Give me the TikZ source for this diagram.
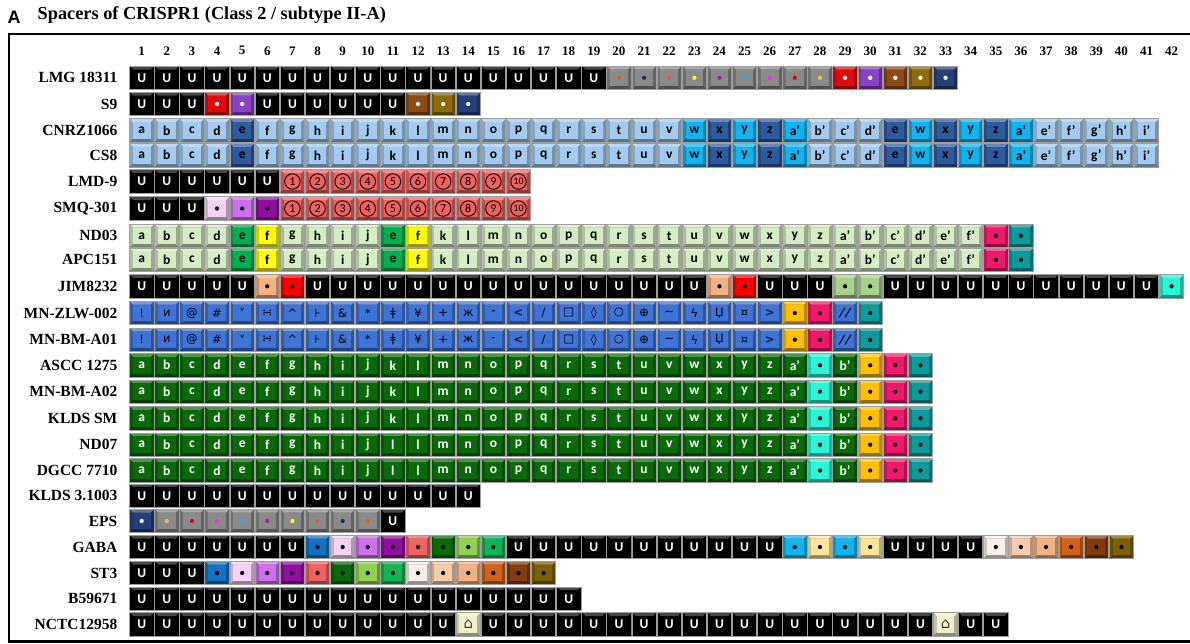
\documentclass[tikz,border=0pt]{standalone}
\usepackage{fontspec}
\setmainfont{Liberation Serif}
\newfontfamily\cellfont{Carlito}
\newfontfamily\symfont{DejaVu Sans}
\newfontfamily\afont{Liberation Sans}
\definecolor{lb}{HTML}{A4CBEF}
\definecolor{db}{HTML}{2E5AA0}
\definecolor{cy}{HTML}{10B4F0}
\definecolor{salmon}{HTML}{EF6262}
\definecolor{lg}{HTML}{D3EDC4}
\definecolor{gre}{HTML}{00B050}
\definecolor{yel}{HTML}{FFFF00}
\definecolor{pinkred}{HTML}{F2186C}
\definecolor{teal2}{HTML}{0B9B9C}
\definecolor{peach}{HTML}{F4B183}
\definecolor{rred}{HTML}{FF0000}
\definecolor{lmgred}{HTML}{E00A0A}
\definecolor{lgtwo}{HTML}{A9D18E}
\definecolor{aqua}{HTML}{2BF5D6}
\definecolor{mnblue}{HTML}{3F74D6}
\definecolor{gold}{HTML}{FFC000}
\definecolor{dgreen}{HTML}{0A6A0A}
\definecolor{gr}{HTML}{8A8A8A}
\definecolor{navy}{HTML}{243F78}
\definecolor{purp}{HTML}{8840C4}
\definecolor{brown}{HTML}{8E4A16}
\definecolor{olive}{HTML}{8C6C08}
\definecolor{lpink}{HTML}{F7D2F7}
\definecolor{orchid}{HTML}{CE70EC}
\definecolor{purptwo}{HTML}{900FA0}
\definecolor{bluetwo}{HTML}{1272C4}
\definecolor{lgthree}{HTML}{92D050}
\definecolor{gretwo}{HTML}{12B458}
\definecolor{cream}{HTML}{FFE699}
\definecolor{vlpeach}{HTML}{FCEFE6}
\definecolor{lpeach}{HTML}{F8CBAD}
\definecolor{orangetwo}{HTML}{D0621A}
\definecolor{browntwo}{HTML}{843C0C}
\definecolor{olivetwo}{HTML}{7F6000}
\definecolor{housecr}{HTML}{F0F0CC}
\definecolor{dorange}{HTML}{E06010}
\definecolor{dnavy}{HTML}{1A2A6C}
\definecolor{dsalmon}{HTML}{F05050}
\definecolor{dyellow}{HTML}{FFFF00}
\definecolor{dpurple}{HTML}{9A20A0}
\definecolor{dsky}{HTML}{20B0F0}
\definecolor{dmagenta}{HTML}{FF20FF}
\definecolor{dred}{HTML}{E00000}
\definecolor{dgold}{HTML}{F0C040}
\tikzset{
  cellout/.style={draw=none, minimum width=24.4pt, minimum height=23.4pt, inner sep=0pt, outer sep=0pt},
  cellin/.style={draw=none, minimum width=17.6pt, minimum height=16.6pt, inner sep=0pt},
  cellrim/.style={draw=black!38, line width=0.8pt},
  ctxt/.style={font=\cellfont\bfseries\fontsize{13.5}{14}\selectfont, inner sep=0pt},
  stxt/.style={font=\symfont\fontsize{11.5}{12}\selectfont, inner sep=0pt, text=black},
  circ/.style={circle, draw=black, line width=0.9pt, minimum size=15.5pt, inner sep=0pt, font=\cellfont\fontsize{12}{12}\selectfont},
  lab/.style={font=\bfseries\fontsize{15.5}{16}\selectfont, anchor=east, inner sep=0pt},
  hdr/.style={font=\bfseries\fontsize{13}{14}\selectfont, inner sep=0pt}
}
\newcommand\rn{}
\newcommand\ry{}
\newcommand\setrow[3]{\def\rn{#1}\def\ry{#3}\node[lab] (lab-#1) at (117.5,#3) {#2};}
\newcommand\bg[2]{%
  \node[cellout, fill=#2!72!black] (\rn-#1) at ({141.7+25.12*(#1-1)},\ry) {};
  \fill[#2!72!white] (\rn-#1.north west) -- (\rn-#1.north east) -- ([shift={(-3.4,3.4)}]\rn-#1.north east) -- ([shift={(3.4,3.4)}]\rn-#1.north west) -- cycle;
  \fill[#2!82!black] (\rn-#1.north west) -- ([shift={(3.4,3.4)}]\rn-#1.north west) -- ([shift={(3.4,-3.4)}]\rn-#1.south west) -- (\rn-#1.south west) -- cycle;
  \fill[#2!58!black] (\rn-#1.south west) -- (\rn-#1.south east) -- ([shift={(-3.4,-3.4)}]\rn-#1.south east) -- ([shift={(3.4,-3.4)}]\rn-#1.south west) -- cycle;
  \draw[cellrim] (\rn-#1.north west) rectangle (\rn-#1.south east);
  \node[cellin, fill=#2] (\rn-#1-f) at (\rn-#1) {};}
\newcommand\tk[3]{\bg{#1}{#2}\node[ctxt, text=black] (\rn-#1-t) at (\rn-#1) {#3};}
\newcommand\tw[3]{\bg{#1}{#2}\node[ctxt, text=white] (\rn-#1-t) at (\rn-#1) {#3};}
\newcommand\dt[3]{\bg{#1}{#2}\fill[#3] (\rn-#1) circle (2.1);}
\newcommand\Ucell[1]{\tw{#1}{black}{U}}
\newcommand\Us[2]{\foreach \k in {#1,...,#2}{\Ucell{\k}}}
\newcommand\sy[3]{\bg{#1}{#2}\node[stxt] (\rn-#1-t) at (\rn-#1) {#3};}
\newcommand\cn[2]{\bg{#1}{salmon}\node[circ] (\rn-#1-t) at (\rn-#1) {#2};}
\newcommand\hs[1]{\bg{#1}{housecr}\node[font=\symfont\fontsize{15}{16}\selectfont, text=black!75, inner sep=0pt] (\rn-#1-t) at (\rn-#1) {⌂};}
\newcommand\crisprrow{%
  \foreach \t [count=\j] in {a,b,c,d}{\tk{\j}{lb}{\t}}
  \tk{5}{db}{e}
  \foreach \t [count=\j from 6] in {f,g,h,i,j,k,l,m,n,o,p,q,r,s,t,u,v}{\tk{\j}{lb}{\t}}
  \tk{23}{cy}{w}\tk{24}{db}{x}\tk{25}{cy}{y}\tk{26}{db}{z}\tk{27}{cy}{a’}
  \tk{28}{lb}{b’}\tk{29}{lb}{c’}\tk{30}{lb}{d’}
  \tk{31}{db}{e}\tk{32}{cy}{w}\tk{33}{db}{x}\tk{34}{cy}{y}\tk{35}{db}{z}\tk{36}{cy}{a’}
  \foreach \t [count=\j from 37] in {e’,f’,g’,h’,i’}{\tk{\j}{lb}{\t}}}
\newcommand\ndrow{%
  \foreach \t [count=\j] in {a,b,c,d}{\tk{\j}{lg}{\t}}
  \tk{5}{gre}{e}\tk{6}{yel}{f}
  \foreach \t [count=\j from 7] in {g,h,i,j}{\tk{\j}{lg}{\t}}
  \tk{11}{gre}{e}\tk{12}{yel}{f}
  \foreach \t [count=\j from 13] in {k,l,m,n,o,p,q,r,s,t,u,v,w,x,y,z,a’,b’,c’,d’,e’,f’}{\tk{\j}{lg}{\t}}
  \dt{35}{pinkred}{black}\dt{36}{teal2}{black}}
\newcommand\mnrow{%
  \foreach \t [count=\j] in {!,и,@,\#,˅,∺,\textasciicircum,⊦,\&,*,ǂ,¥,+,ж,-,<,/,□,◊,○,⊕,\textasciitilde,ϟ,Џ,¤,>}{\sy{\j}{mnblue}{\t}}
  \dt{27}{gold}{black}\dt{28}{pinkred}{black}
  \tk{29}{mnblue}{\itshape //}\dt{30}{teal2}{black}}
\newcommand\greentail{%
  \tw{27}{dgreen}{a’}\dt{28}{aqua}{black}\tw{29}{dgreen}{b’}
  \dt{30}{gold}{black}\dt{31}{pinkred}{black}\dt{32}{teal2}{black}}
\newcommand\greenk{%
  \foreach \t [count=\j] in {a,b,c,d,e,f,g,h,i,j,k,l,m,n,o,p,q,r,s,t,u,v,w,x,y,z}{\tw{\j}{dgreen}{\t}}
  \greentail}
\newcommand\greenl{%
  \foreach \t [count=\j] in {a,b,c,d,e,f,g,h,i,j,l,l,m,n,o,p,q,r,s,t,u,v,w,x,y,z}{\tw{\j}{dgreen}{\t}}
  \greentail}
\begin{document}
\begin{tikzpicture}[x=1pt,y=-1pt]
\useasboundingbox (0,0) rectangle (1190,643);
\fill[white] (0,0) rectangle (1190,643);
% heading
\node[font=\afont\bfseries\fontsize{18}{19}\selectfont, inner sep=0pt, anchor=west] (panel) at (7.5,17.5) {A};
\node[font=\bfseries\fontsize{18.3}{19}\selectfont, inner sep=0pt, anchor=west] (title) at (37.5,15) {Spacers of CRISPR1 (Class 2 / subtype II-A)};
% frame
\draw[line width=2.6pt] (1200,33.8) -- (8.8,33.8) -- (8.8,641.6) -- (1200,641.6);
% column numbers
\foreach \j in {1,...,42}{\node[hdr] (h\j) at ({141.7+25.12*(\j-1)},50.8) {\j};}
% rows
\setrow{lmg}{LMG 18311}{77.8}
\Us{1}{19}
\foreach \c [count=\j from 20] in {dorange,dnavy,dsalmon,dyellow,dpurple,dsky,dmagenta,dred,dgold}{\dt{\j}{gr}{\c}}
\dt{29}{lmgred}{white}\dt{30}{purp}{white}\dt{31}{brown}{white}\dt{32}{olive}{white}\dt{33}{navy}{white}
\setrow{s9}{S9}{104}
\Us{1}{3}\dt{4}{lmgred}{white}\dt{5}{purp}{white}\Us{6}{11}
\dt{12}{brown}{white}\dt{13}{olive}{white}\dt{14}{navy}{white}
\setrow{cnrz}{CNRZ1066}{130.5}
\crisprrow
\setrow{cs8}{CS8}{155.3}
\crisprrow
\setrow{lmd}{LMD-9}{181.5}
\Us{1}{6}
\foreach \n [count=\j from 7] in {1,...,9}{\cn{\j}{\n}}
\cn{16}{\fontsize{10}{10}\selectfont 10}
\setrow{smq}{SMQ-301}{208.5}
\Us{1}{3}\dt{4}{lpink}{black}\dt{5}{orchid}{black}\dt{6}{purptwo}{black}
\foreach \n [count=\j from 7] in {1,...,9}{\cn{\j}{\n}}
\cn{16}{\fontsize{10}{10}\selectfont 10}
\setrow{nd03}{ND03}{235.8}
\ndrow
\setrow{apc}{APC151}{259.7}
\ndrow
\setrow{jim}{JIM8232}{286.3}
\Us{1}{5}\dt{6}{peach}{black}\dt{7}{rred}{black}\Us{8}{23}
\dt{24}{peach}{black}\dt{25}{rred}{black}\Us{26}{28}
\dt{29}{lgtwo}{black}\dt{30}{lgtwo}{black}\Us{31}{41}\dt{42}{aqua}{black}
\setrow{mnz}{MN-ZLW-002}{313}
\mnrow
\setrow{mnb}{MN-BM-A01}{339.7}
\mnrow
\setrow{ascc}{ASCC 1275}{365.3}
\greenk
\setrow{mnb2}{MN-BM-A02}{391.7}
\greenk
\setrow{klsm}{KLDS SM}{418.3}
\greenk
\setrow{nd07}{ND07}{444.7}
\greenl
\setrow{dgcc}{DGCC 7710}{470.5}
\greenl
\setrow{klds}{KLDS 3.1003}{495.7}
\Us{1}{14}
\setrow{eps}{EPS}{521}
\dt{1}{navy}{white}
\foreach \c [count=\j from 2] in {dgold,dred,dmagenta,dsky,dpurple,dyellow,dsalmon,dnavy,dorange}{\dt{\j}{gr}{\c}}
\Ucell{11}
\setrow{gaba}{GABA}{547}
\Us{1}{7}
\foreach \c [count=\j from 8] in {bluetwo,lpink,orchid,purptwo,salmon,dgreen,lgthree,gretwo}{\dt{\j}{\c}{black}}
\Us{16}{26}
\foreach \c [count=\j from 27] in {cy,cream,cy,cream}{\dt{\j}{\c}{black}}
\Us{31}{34}
\foreach \c [count=\j from 35] in {vlpeach,lpeach,peach,orangetwo,browntwo,olivetwo}{\dt{\j}{\c}{black}}
\setrow{st3}{ST3}{573}
\Us{1}{3}
\foreach \c [count=\j from 4] in {bluetwo,lpink,orchid,purptwo,salmon,dgreen,lgthree,gretwo,vlpeach,lpeach,peach,orangetwo,browntwo,olivetwo}{\dt{\j}{\c}{black}}
\setrow{b59}{B59671}{598.7}
\Us{1}{18}
\setrow{nctc}{NCTC12958}{624.3}
\Us{1}{13}\hs{14}\Us{15}{32}\hs{33}\Us{34}{35}
\end{tikzpicture}
\end{document}
